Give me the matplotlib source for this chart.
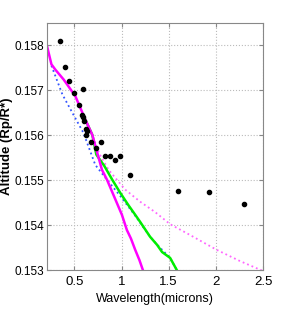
import matplotlib
matplotlib.use('Agg')
import matplotlib.pyplot as plt
from matplotlib.ticker import FormatStrFormatter, FuncFormatter

# measured points
obs_wl = [0.352, 0.405, 0.447, 0.500, 0.595, 0.545, 0.577, 0.588, 0.606, 0.627,
          0.634, 0.624, 0.680, 0.778, 0.729, 0.820, 0.881, 0.930, 0.979, 1.085,
          1.603, 1.927, 2.300]
obs_alt = [0.15811, 0.15751, 0.15720, 0.15695, 0.15704, 0.15667, 0.15646, 0.15641,
           0.15631, 0.15614, 0.15609, 0.15601, 0.15584, 0.15586, 0.15572, 0.15553,
           0.15553, 0.15546, 0.15553, 0.15512, 0.15475, 0.15473, 0.15447]

# models
mag_wl = [0.211, 0.257, 0.299, 0.387, 0.511, 0.616, 0.690, 0.793, 0.846, 0.925,
          1.004, 1.057, 1.100, 1.145, 1.190, 1.233]
mag_alt = [0.15798, 0.15758, 0.15746, 0.15724, 0.15687, 0.15635, 0.15601, 0.15523,
           0.15501, 0.15462, 0.15423, 0.15389, 0.15370, 0.15345, 0.15322, 0.15296]

grn_wl = [0.616, 0.690, 0.733, 0.817, 0.902, 0.986, 1.071, 1.145, 1.198, 1.303,
          1.377, 1.430, 1.515, 1.586]
grn_alt = [0.15635, 0.15601, 0.15557, 0.15532, 0.15501, 0.15472, 0.15445, 0.15423,
           0.15407, 0.15374, 0.15356, 0.15340, 0.15327, 0.15300]

pnk_wl = [0.616, 0.690, 0.763, 0.863, 1.039, 1.198, 1.356, 1.515, 1.726, 2.008,
          2.255, 2.487]
pnk_alt = [0.15635, 0.15601, 0.15560, 0.15523, 0.15479, 0.15452, 0.15429, 0.15402,
           0.15378, 0.15345, 0.15320, 0.15299]

blu_wl = [0.257, 0.373, 0.479, 0.595, 0.722, 0.846, 0.986, 1.145, 1.303, 1.388,
          1.515, 1.586]
blu_alt = [0.15755, 0.15691, 0.15650, 0.15606, 0.15534, 0.15501, 0.15465, 0.15421,
           0.15374, 0.15354, 0.15327, 0.15300]

xticks = [0.5, 1, 1.5, 2, 2.5]
yticks = [0.153, 0.154, 0.155, 0.156, 0.157, 0.158]

plt.rcParams['font.family'] = ['Liberation Sans', 'DejaVu Sans']
cond = ['DejaVu Sans Condensed', 'Liberation Sans', 'DejaVu Sans']

fig = plt.figure(figsize=(2.91, 3.19), dpi=100)
ax = fig.add_axes([0.1615, 0.1536, 0.7423, 0.7743])

ax.plot(blu_wl, blu_alt, color='#3355ff', lw=1.3, ls=':')
ax.plot(pnk_wl, pnk_alt, color='#ff66ff', lw=1.3, ls=':')
ax.plot(grn_wl, grn_alt, color='#00ee00', lw=1.8)
ax.plot(mag_wl, mag_alt, color='#ff00ff', lw=1.8)
ax.plot(obs_wl, obs_alt, 'o', color='black', ms=3)

ax.set_xlim(0.21, 2.5)
ax.set_ylim(0.153, 0.1585)
ax.set_xticks(xticks)
ax.set_yticks(yticks)
ax.xaxis.set_major_formatter(FuncFormatter(lambda v, p: '%g' % v))
ax.yaxis.set_major_formatter(FormatStrFormatter('%.3f'))
ax.grid(True, color='#bbbbbb', ls=':', lw=0.8)
ax.tick_params(direction='in', length=3, top=True, right=True, color='#888888',
               pad=2)
ax.tick_params(axis='x', labelsize=9.5, pad=4)
ax.tick_params(axis='y', labelsize=8.5)
for s in ax.spines.values():
    s.set_color('#888888')

ax.set_xlabel('Wavelength(microns)', family=cond, fontstretch='condensed',
              fontsize=9, labelpad=4)
ax.set_ylabel('Altitude (Rp/R*)', fontsize=9.5, fontweight='bold', va='center')
ax.yaxis.set_label_coords(-0.183, 0.5)

fig.savefig('out.png', dpi=100)
